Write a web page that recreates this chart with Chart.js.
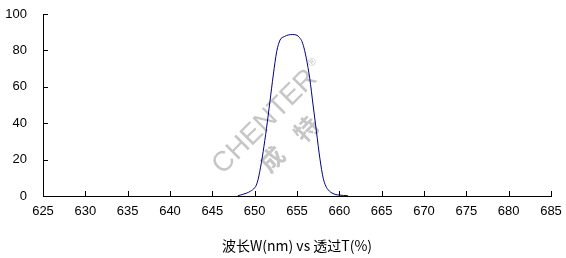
<!DOCTYPE html>
<html>
<head>
<meta charset="utf-8">
<script src="https://cdn.jsdelivr.net/npm/chart.js@4.4.1/dist/chart.umd.min.js"></script>
<style>
  html, body { margin: 0; padding: 0; background: #fff; }
  #wrap { width: 566px; height: 258px; }
</style>
</head>
<body>
<div id="wrap"><canvas id="filterChart" width="566" height="258"></canvas></div>
<script>
const wavelengths = [648.0, 648.3, 648.6, 649.0, 649.5, 650.0, 650.2, 650.4, 650.6, 650.8, 651.0, 651.4, 651.8, 652.2, 652.6, 653.0, 653.5, 654.0, 654.5, 655.0, 655.3, 655.6, 655.9, 656.1, 656.5, 656.9, 657.3, 657.7, 658.1, 658.4, 658.7, 659.0, 659.5, 660.0, 660.5, 661.0];
const transmission = [0.1, 0.5, 0.9, 1.5, 2.6, 4.5, 6.0, 9.0, 13.4, 18.5, 24.3, 37.2, 51.8, 66.5, 79.3, 85.7, 87.6, 88.5, 88.7, 88.3, 87.0, 84.8, 80.0, 75.7, 64.7, 50.0, 35.3, 20.7, 9.7, 5.5, 3.3, 2.0, 0.9, 0.5, 0.3, 0.2];

const xMin = 625, xMax = 685, xStep = 5;
const yMin = 0, yMax = 100, yStep = 20;
const xTitle = '波长W(nm) vs 透过T(%)';
const watermark = 'CHENTER';
const watermarkCn = ['成', '特'];

const fontFamily = '"Liberation Sans", Arial, sans-serif';

// Marcas de graduación hacia dentro del área
const innerTicks = {
    id: 'innerTicks',
    afterDraw(chart) {
        const c = chart.ctx, a = chart.chartArea;
        const xs = chart.scales.x, ys = chart.scales.y;
        c.save();
        c.strokeStyle = '#000';
        c.lineWidth = 1;
        c.beginPath();
        xs.ticks.forEach(t => {
            const px = Math.round(xs.getPixelForValue(t.value)) + 0.5;
            c.moveTo(px, a.bottom);
            c.lineTo(px, a.bottom - 5);
        });
        ys.ticks.forEach(t => {
            const py = Math.round(ys.getPixelForValue(t.value)) + 0.5;
            c.moveTo(a.left, py);
            c.lineTo(a.left + 5, py);
        });
        c.stroke();
        c.restore();
    }
};

// Marca de agua gris
const watermarkPlugin = {
    id: 'watermark',
    beforeDatasetsDraw(chart) {
        const c = chart.ctx;
        const ang = -45 * Math.PI / 180;
        c.save();
        c.fillStyle = '#c6c6c6';
        c.translate(265, 122);
        c.rotate(ang);
        c.font = '28px ' + fontFamily;
        c.textAlign = 'center';
        c.textBaseline = 'middle';
        c.fillText(watermark, 0, 0);
        const w = c.measureText(watermark).width;
        c.font = '11px ' + fontFamily;
        c.fillText('®', w / 2 + 8, -9);
        c.restore();

        c.font = 'bold 24px "Noto Sans CJK SC", sans-serif';
        c.fillStyle = '#c6c6c6';
        c.textAlign = 'center';
        c.textBaseline = 'middle';
        [[272, 159], [306, 129]].forEach((p, i) => {
            c.save();
            c.translate(p[0], p[1]);
            c.rotate(ang);
            c.fillText(watermarkCn[i], 0, 0);
            c.restore();
        });
    }
};

const ctx = document.getElementById('filterChart').getContext('2d');

const filterChart = new Chart(ctx, {
    type: 'line',
    data: {
        datasets: [{
            data: wavelengths.map((w, i) => ({ x: w, y: transmission[i] })),
            borderColor: '#000080',
            borderWidth: 1,
            pointRadius: 0,
            fill: false,
            cubicInterpolationMode: 'monotone'
        }]
    },
    options: {
        responsive: false,
        animation: false,
        devicePixelRatio: 1,
        layout: { padding: { top: 14, right: 15, left: 0, bottom: 0 } },
        plugins: {
            legend: { display: false },
            tooltip: { enabled: false }
        },
        scales: {
            x: {
                type: 'linear',
                min: xMin,
                max: xMax,
                afterFit(scale) {
                    scale.height = 62;
                    scale.paddingLeft = 0;
                    scale.paddingRight = 0;
                },
                grid: { display: false, drawTicks: false },
                border: { display: true, color: '#000', width: 1 },
                ticks: {
                    stepSize: xStep,
                    padding: 8,
                    color: '#000',
                    maxRotation: 0,
                    font: { family: fontFamily, size: 13 }
                },
                title: {
                    display: true,
                    text: xTitle,
                    color: '#000',
                    padding: { top: 6 },
                    font: { family: '"Noto Sans CJK SC", ' + fontFamily, size: 14 }
                }
            },
            y: {
                min: yMin,
                max: yMax,
                afterFit(scale) {
                    scale.width = 43;
                    scale.paddingTop = 0;
                    scale.paddingBottom = 0;
                },
                grid: { display: false, drawTicks: false },
                border: { display: true, color: '#000', width: 1 },
                ticks: {
                    stepSize: yStep,
                    padding: 16,
                    color: '#000',
                    font: { family: fontFamily, size: 13 }
                }
            }
        }
    },
    plugins: [watermarkPlugin, innerTicks]
});
</script>
</body>
</html>
